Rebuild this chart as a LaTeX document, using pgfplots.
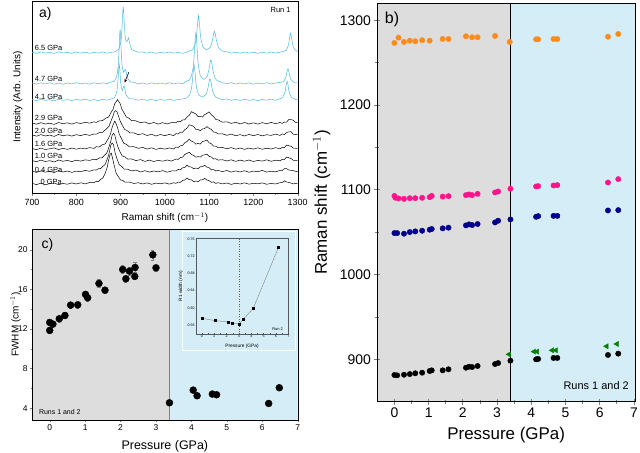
\documentclass[border=0pt]{standalone}
\usepackage{fontspec}
\setmainfont{Liberation Sans}
\usepackage{pgfplots}
\pgfplotsset{compat=1.18}
\usetikzlibrary{arrows.meta}
\definecolor{specblue}{RGB}{75,185,228}
\definecolor{bggray}{RGB}{221,221,221}
\definecolor{bgblue}{RGB}{213,237,247}
\definecolor{dorange}{RGB}{255,140,26}
\definecolor{dpink}{RGB}{255,20,140}
\definecolor{dnavy}{RGB}{0,0,140}
\definecolor{dgreen}{RGB}{0,130,0}
\newcommand{\fs}[1]{\fontsize{#1}{#1}\selectfont}
\begin{document}
\begin{tikzpicture}
\useasboundingbox (0bp,0bp) rectangle (640bp,453bp);
% ---------------- panel a ----------------
\begin{axis}[at={(32bp,260bp)}, anchor=south west, scale only axis,
  width=265.7bp, height=192bp,
  xmin=700, xmax=1300, ymin=0, ymax=192,
  xtick={700,800,...,1300}, minor x tick num=1, ytick=\empty,
  tick pos=left, tick align=outside,
  major tick length=3pt, minor tick length=1.8pt,
  /pgf/number format/assume math mode=true, /pgf/number format/1000 sep={},
  xticklabel style={font=\fs{9}},
  xlabel={Raman shift (cm$^{-1}$)}, ylabel={Intensity (Arb. Units)},
  label style={font=\fs{10}},
  xlabel style={at={(axis description cs:0.5,-0.13)}, anchor=center},
  ylabel style={at={(axis description cs:-0.053,0.5)}, anchor=center},
  clip=true]
% 0 GPa
\addplot[black, line width=0.5pt] coordinates {(700,9.7) (710,8.4) (720,9.8) (730,8.2) (740,9.4) (750,10.0) (760,8.3) (770,9.5) (780,8.8) (790,10.1) (800,9.0) (810,10.2) (820,9.1) (830,10.5) (840,10.3) (845,11.6) (850,11.4) (855,13.6) (860,15.0) (865,19.3) (870,26.0) (873,32.9) (876,38.2) (879,39.9) (882,34.6) (885,28.6) (890,19.9) (895,16.3) (900,13.0) (905,12.6) (910,10.8) (920,11.0) (930,9.5) (940,10.3) (950,9.0) (960,10.1) (970,8.7) (980,9.9) (990,9.2) (1000,10.1) (1010,8.9) (1020,10.3) (1025,9.6) (1030,10.9) (1035,10.6) (1040,12.6) (1045,13.0) (1050,14.9) (1055,13.4) (1060,13.1) (1065,11.4) (1070,12.0) (1075,11.3) (1080,13.0) (1085,13.2) (1090,14.6) (1095,13.0) (1100,12.4) (1105,10.7) (1110,11.1) (1115,9.6) (1120,10.3) (1130,9.1) (1140,10.0) (1150,8.6) (1160,9.8) (1170,9.0) (1180,10.2) (1190,8.8) (1200,9.7) (1210,9.2) (1220,10.1) (1230,8.7) (1240,9.6) (1250,9.0) (1260,10.3) (1265,10.4) (1270,12.2) (1275,11.0) (1280,10.6) (1290,9.1) (1300,9.8)};
% 0.4 GPa
\addplot[black, line width=0.5pt] coordinates {(700,21.9) (710,20.6) (720,22.2) (730,20.8) (740,21.8) (750,20.4) (760,22.4) (770,21.0) (780,22.0) (790,20.6) (800,21.9) (810,21.2) (820,22.6) (830,21.7) (840,23.2) (845,22.9) (850,24.3) (855,24.3) (860,26.6) (865,28.5) (870,33.9) (874,39.6) (878,47.9) (881,50.0) (884,48.2) (888,39.6) (892,34.1) (897,28.3) (902,26.8) (908,24.0) (915,23.9) (925,22.1) (935,22.9) (945,21.0) (955,22.3) (965,20.9) (975,22.0) (985,21.1) (995,22.4) (1005,20.8) (1015,22.0) (1025,22.0) (1030,23.6) (1035,23.1) (1040,25.2) (1045,25.6) (1050,27.7) (1055,26.3) (1060,25.9) (1065,24.2) (1070,25.0) (1075,24.3) (1080,26.2) (1085,26.5) (1090,27.6) (1095,25.9) (1100,25.2) (1105,23.2) (1110,23.4) (1115,22.0) (1120,22.6) (1130,21.4) (1140,22.5) (1150,20.9) (1160,22.1) (1170,21.0) (1180,22.3) (1190,20.7) (1200,21.9) (1210,21.3) (1220,22.6) (1230,20.9) (1240,21.8) (1250,21.1) (1260,22.6) (1265,22.5) (1270,24.4) (1275,24.3) (1280,23.0) (1290,22.3) (1300,21.2)};
% 1.0 GPa
\addplot[black, line width=0.5pt] coordinates {(700,32.5) (710,31.2) (720,32.9) (730,31.5) (740,32.3) (750,31.0) (760,33.0) (770,31.7) (780,32.6) (790,31.4) (800,32.8) (810,31.9) (820,33.1) (830,32.6) (840,33.8) (845,33.2) (852,35.0) (858,35.1) (864,38.0) (869,40.0) (874,46.3) (878,52.0) (881,57.8) (884,59.7) (887,57.9) (890,52.0) (894,46.2) (899,40.9) (904,37.0) (910,36.1) (916,33.9) (924,34.1) (935,32.4) (945,33.4) (955,31.6) (965,32.9) (975,31.5) (985,32.7) (995,31.8) (1005,33.0) (1015,31.9) (1025,33.9) (1030,33.6) (1035,35.4) (1040,35.8) (1045,38.5) (1050,39.6) (1055,40.8) (1060,38.5) (1065,37.6) (1070,35.8) (1075,36.4) (1080,35.9) (1085,37.8) (1090,38.1) (1095,38.9) (1100,36.7) (1105,36.0) (1110,34.0) (1115,34.3) (1120,32.9) (1130,33.3) (1140,32.0) (1150,33.2) (1160,31.6) (1170,32.9) (1180,31.8) (1190,33.0) (1200,31.5) (1210,32.6) (1220,31.9) (1230,33.2) (1240,31.7) (1250,32.8) (1260,32.2) (1265,33.6) (1270,33.5) (1275,36.0) (1280,35.2) (1285,34.5) (1290,32.7) (1300,32.6)};
% 1.6 GPa
\addplot[black, line width=0.5pt] coordinates {(700,44.6) (710,43.3) (720,44.9) (730,43.5) (740,44.2) (750,45.1) (760,43.4) (770,44.7) (780,43.6) (790,45.0) (800,43.8) (810,44.9) (820,44.1) (830,45.4) (840,44.6) (845,46.3) (852,46.0) (858,48.1) (865,49.0) (872,54.3) (877,58.6) (881,65.8) (884,69.1) (887,72.0) (890,69.2) (893,65.7) (897,58.9) (902,54.3) (907,49.9) (913,48.7) (920,46.2) (930,46.3) (940,44.7) (950,45.6) (960,43.9) (970,45.2) (980,43.6) (990,44.8) (1000,43.9) (1010,45.1) (1020,44.0) (1025,46.0) (1030,45.5) (1035,47.2) (1040,47.6) (1045,50.2) (1050,51.4) (1055,53.9) (1060,51.8) (1065,51.0) (1070,48.8) (1075,49.6) (1080,48.9) (1085,51.5) (1090,52.0) (1095,53.0) (1100,50.2) (1105,49.3) (1110,46.8) (1115,46.9) (1120,45.2) (1130,45.6) (1140,44.2) (1150,45.4) (1160,43.8) (1170,45.0) (1180,43.6) (1190,44.9) (1200,43.9) (1210,45.2) (1220,43.7) (1230,44.8) (1240,44.0) (1250,45.3) (1260,44.2) (1265,45.6) (1270,45.4) (1275,48.0) (1280,47.2) (1285,46.7) (1290,44.8) (1300,44.7)};
% 2.0 GPa
\addplot[black, line width=0.5pt] coordinates {(700,58.2) (710,56.8) (720,58.4) (730,57.0) (740,57.9) (750,56.6) (760,58.6) (770,57.2) (780,58.1) (790,56.9) (800,58.3) (810,57.4) (820,58.7) (830,57.6) (840,59.0) (845,58.8) (852,60.4) (859,60.6) (866,63.3) (874,66.8) (879,72.6) (883,77.1) (886,81.3) (889,82.4) (892,81.2) (895,77.3) (899,72.0) (904,67.6) (909,63.7) (915,62.3) (921,60.2) (930,60.1) (940,58.4) (950,59.3) (960,57.5) (970,58.7) (980,57.0) (990,58.5) (1000,57.3) (1010,58.6) (1020,57.4) (1025,59.4) (1030,59.0) (1035,60.8) (1040,60.7) (1045,63.4) (1050,64.8) (1055,68.2) (1060,67.6) (1065,66.6) (1070,63.6) (1075,63.5) (1080,62.3) (1085,64.0) (1090,64.4) (1095,66.4) (1100,64.6) (1105,63.6) (1110,60.9) (1115,60.7) (1120,59.0) (1130,59.2) (1140,57.7) (1150,58.9) (1160,57.2) (1170,58.4) (1180,57.0) (1190,58.6) (1200,57.3) (1210,58.5) (1220,57.1) (1230,58.3) (1240,57.6) (1250,58.9) (1260,57.6) (1265,59.0) (1270,58.5) (1275,60.5) (1280,61.1) (1285,61.3) (1290,58.8) (1300,58.3)};
% 2.9 GPa
\addplot[black, line width=0.5pt] coordinates {(700,70.1) (710,68.8) (720,70.3) (730,69.0) (740,69.8) (750,68.6) (760,70.5) (770,69.2) (780,70.2) (790,68.9) (800,70.4) (810,69.5) (820,70.7) (830,69.8) (840,71.2) (845,70.6) (852,72.2) (859,72.3) (866,74.6) (873,76.0) (878,80.2) (883,83.7) (887,89.5) (890,91.2) (893,93.4) (896,91.3) (899,89.4) (903,83.8) (908,80.0) (913,76.0) (919,74.8) (925,72.3) (933,72.3) (945,70.4) (955,71.0) (965,69.2) (975,70.5) (985,68.9) (995,70.3) (1005,69.0) (1015,70.4) (1025,70.3) (1030,71.7) (1035,71.2) (1040,73.0) (1045,73.2) (1050,76.0) (1055,77.7) (1060,81.3) (1065,80.2) (1070,79.1) (1075,76.3) (1080,76.6) (1085,76.0) (1090,78.5) (1095,79.6) (1100,81.2) (1105,78.2) (1110,76.5) (1115,73.5) (1120,73.2) (1130,70.8) (1140,71.2) (1150,69.6) (1160,70.7) (1170,69.1) (1180,70.5) (1190,69.0) (1200,70.2) (1210,68.9) (1220,70.4) (1230,69.2) (1240,70.6) (1250,69.3) (1260,70.5) (1265,69.6) (1270,71.0) (1275,70.9) (1280,73.5) (1285,73.4) (1290,72.7) (1295,70.4) (1300,70.8)};
% 4.1 GPa
\addplot[specblue, line width=0.5pt] coordinates {(700,93.5) (710,92.4) (720,93.7) (730,92.6) (740,93.3) (750,92.2) (760,93.8) (770,92.7) (780,93.4) (790,92.5) (800,93.6) (810,92.8) (820,93.9) (830,92.6) (840,93.4) (850,92.5) (860,93.7) (870,92.9) (880,94.3) (886,95.0) (890,98.9) (892,102.3) (894,111.1) (896,125.0) (897,128.8) (898,125.7) (900,111.6) (902,105.0) (904,102.4) (906,105.1) (908,107.2) (910,103.5) (912,98.4) (915,96.4) (920,94.1) (930,94.0) (940,92.8) (950,93.9) (960,92.6) (970,93.6) (980,92.3) (990,93.5) (1000,92.7) (1010,93.8) (1020,92.6) (1030,93.5) (1040,94.0) (1050,95.1) (1056,98.3) (1060,104.0) (1062,111.0) (1064,121.1) (1066,128.2) (1068,121.6) (1070,110.8) (1072,104.5) (1076,98.3) (1080,97.0) (1086,95.8) (1090,97.4) (1094,99.4) (1097,104.5) (1099,108.8) (1101,114.1) (1103,113.4) (1105,109.2) (1107,103.6) (1110,99.5) (1115,95.7) (1120,95.0) (1130,93.4) (1140,94.1) (1150,92.6) (1160,93.7) (1170,92.5) (1180,93.8) (1190,92.7) (1200,93.4) (1210,92.3) (1220,93.6) (1230,92.8) (1240,93.9) (1250,92.6) (1260,94.4) (1266,95.3) (1270,99.2) (1272,102.2) (1274,108.4) (1276,111.8) (1278,108.5) (1280,102.3) (1282,99.1) (1286,95.3) (1290,94.7) (1296,93.4) (1300,94.0)};
% 4.7 GPa
\addplot[specblue, line width=0.5pt] coordinates {(700,110.0) (710,108.9) (720,110.2) (730,109.1) (740,110.3) (750,108.8) (760,109.9) (770,108.7) (780,110.1) (790,109.0) (800,110.4) (810,109.2) (820,110.0) (830,108.9) (840,110.3) (850,109.1) (860,110.2) (870,109.4) (880,111.2) (886,111.8) (890,115.3) (893,119.9) (895,129.3) (897,146.4) (898,158.5) (899,163.6) (900,158.0) (901,147.2) (903,128.6) (905,123.4) (907,120.5) (909,122.6) (911,123.4) (913,120.6) (915,115.8) (918,113.4) (922,110.9) (930,110.8) (940,109.0) (950,110.1) (960,108.8) (970,110.2) (980,109.1) (990,110.0) (1000,108.9) (1010,110.3) (1020,109.0) (1030,110.1) (1040,109.3) (1050,111.9) (1056,113.2) (1060,117.1) (1064,125.4) (1066,135.7) (1068,150.6) (1070,161.0) (1072,151.1) (1074,135.5) (1076,126.2) (1080,117.3) (1084,115.0) (1088,113.6) (1092,114.8) (1096,116.9) (1099,122.4) (1101,127.1) (1103,132.7) (1105,132.2) (1107,127.3) (1109,121.5) (1112,116.7) (1116,113.2) (1120,112.1) (1130,110.3) (1140,109.4) (1150,110.3) (1160,108.9) (1170,110.1) (1180,109.0) (1190,110.2) (1200,108.8) (1210,109.9) (1220,109.1) (1230,110.4) (1240,108.9) (1250,110.0) (1262,110.6) (1268,111.3) (1272,114.3) (1274,116.8) (1276,121.7) (1278,124.3) (1280,121.4) (1282,117.2) (1284,113.9) (1288,111.8) (1294,110.2) (1300,110.1)};
% 6.5 GPa
\addplot[specblue, line width=0.5pt] coordinates {(700,140.8) (710,139.7) (720,141.0) (730,139.9) (740,140.6) (750,139.5) (760,141.1) (770,140.0) (780,140.7) (790,139.6) (800,141.0) (810,139.8) (820,140.9) (830,139.7) (840,140.6) (850,139.9) (860,141.1) (870,139.8) (880,140.9) (886,141.0) (892,142.6) (896,143.7) (900,149.5) (902,156.2) (904,171.6) (905,180.6) (906,186.0) (907,182.1) (908,172.5) (910,158.6) (912,152.1) (914,151.3) (916,153.0) (918,155.2) (920,151.1) (922,147.4) (925,143.6) (930,142.3) (940,140.8) (950,141.0) (960,139.8) (970,140.9) (980,139.6) (990,140.8) (1000,139.9) (1010,141.1) (1020,139.8) (1030,140.7) (1040,139.6) (1050,140.9) (1056,142.2) (1062,143.1) (1066,146.0) (1070,151.6) (1072,159.3) (1074,170.1) (1076,177.3) (1078,170.4) (1080,159.0) (1082,152.5) (1086,145.9) (1090,144.3) (1094,143.2) (1098,144.3) (1102,145.3) (1105,148.5) (1108,153.7) (1110,159.3) (1112,161.8) (1114,159.2) (1116,153.4) (1119,148.1) (1122,144.7) (1126,143.3) (1130,141.9) (1140,141.2) (1150,139.8) (1160,140.9) (1170,139.7) (1180,141.0) (1190,139.9) (1200,140.7) (1210,139.6) (1220,140.9) (1230,139.8) (1240,141.0) (1250,139.9) (1260,140.8) (1268,141.6) (1274,142.8) (1278,146.5) (1280,149.9) (1282,156.1) (1284,159.9) (1286,155.7) (1288,150.2) (1290,146.1) (1294,143.2) (1300,141.3)};
\draw[-{Stealth[length=3.5pt,width=3pt]}, black, line width=0.6pt] (axis cs:919,121) -- (axis cs:909,110.5);
\node[font=\fs{14}, anchor=west] at (axis cs:708,179) {a)};
\node[font=\fs{7.5}, anchor=east] at (axis cs:1292,183) {Run 1};
\begin{scope}[every node/.style={font=\fs{7.5}, anchor=west, inner sep=0.5pt}]
\node at (axis cs:705,144.8) {6.5 GPa};
\node at (axis cs:705,114.2) {4.7 GPa};
\node at (axis cs:705,96.2) {4.1 GPa};
\node at (axis cs:705,75.2) {2.9 GPa};
\node at (axis cs:705,62.5) {2.0 GPa};
\node at (axis cs:705,49.5) {1.6 GPa};
\node at (axis cs:705,36.8) {1.0 GPa};
\node at (axis cs:705,23.5) {0.4 GPa};
\node at (axis cs:718,11.2) {0 GPa};
\end{scope}
\end{axis}
% ---------------- panel c ----------------
\begin{axis}[at={(32bp,33bp)}, anchor=south west, scale only axis,
  width=265.7bp, height=191bp,
  xmin=-0.5, xmax=7, ymin=2.8, ymax=22.1,
  xtick={0,...,7}, ytick={4,8,12,16,20}, minor x tick num=1, minor y tick num=1,
  tick pos=left, tick align=outside, axis on top,
  major tick length=2.5pt, minor tick length=1.5pt,
  /pgf/number format/assume math mode=true,
  ticklabel style={font=\fs{8.5}, inner sep=1.8pt},
  xlabel={Pressure (GPa)}, ylabel={FWHM (cm$^{-1}$)},
  xlabel style={font=\fs{12.5}, at={(axis description cs:0.5,-0.14)}, anchor=center},
  ylabel style={font=\fs{10}, at={(axis description cs:-0.062,0.5)}, anchor=center}]
\fill[bggray] (axis cs:-0.5,2.8) rectangle (axis cs:3.38,22.1);
\fill[bgblue] (axis cs:3.38,2.8) rectangle (axis cs:7,22.1);
\draw[gray, line width=0.4pt] (axis cs:3.38,2.8) -- (axis cs:3.38,22.1);
\addplot[only marks, mark=*, mark size=3.5pt, black,
  error bars/.cd, y dir=both, y explicit,
  error bar style={gray, line width=0.5pt},
  error mark options={gray, rotate=90, mark size=1.6pt}] coordinates {
  (0,12.66) +- (0,0.3) (0,11.85) +- (0,0.3) (0.09,12.49) +- (0,0.3)
  (0.27,13.03) +- (0,0.3) (0.43,13.36) +- (0,0.3) (0.59,14.41) +- (0,0.3)
  (0.79,14.44) +- (0,0.3) (1.01,15.49) +- (0,0.35) (1.07,15.15) +- (0,0.3)
  (1.39,16.6) +- (0,0.4) (1.56,15.92) +- (0,0.3) (2.06,18.01) +- (0,0.4)
  (2.15,17.07) +- (0,0.3) (2.25,17.84) +- (0,0.4) (2.41,18.21) +- (0,0.5)
  (2.40,17.31) +- (0,0.3) (2.91,19.49) +- (0,0.5) (3.00,18.18) +- (0,0.3)
  (3.38,4.54) +- (0,0.2) (4.05,5.82) +- (0,0.2) (4.16,5.25) +- (0,0.2)
  (4.59,5.42) +- (0,0.2) (4.71,5.35) +- (0,0.2) (6.18,4.47) +- (0,0.2)
  (6.48,6.06) +- (0,0.2)};
\node[font=\fs{14}, anchor=west] at (axis cs:-0.33,20.5) {c)};
\node[font=\fs{7}, anchor=west] at (axis cs:-0.4,3.6) {Runs 1 and 2};
\end{axis}
\draw[white, line width=0.6pt] (182.7bp,103bp) rectangle (295.7bp,221.3bp);
% ---------------- inset ----------------
\begin{axis}[at={(195.7bp,119bp)}, anchor=south west, scale only axis,
  width=92.6bp, height=95.7bp,
  xmin=-0.5, xmax=7, ymin=0.539, ymax=0.762,
  xtick={0,...,7}, ytick={0.56,0.60,0.64,0.68,0.72,0.76},
  minor x tick num=1, minor y tick num=1,
  tick pos=left, tick align=inside,
  major tick length=1.5pt, minor tick length=0.8pt,
  axis line style={gray!70!black, line width=0.4pt},
  tick style={gray!70!black, line width=0.3pt},
  /pgf/number format/assume math mode=true,
  yticklabel style={/pgf/number format/.cd, fixed, fixed zerofill, precision=2},
  ticklabel style={font=\fs{3.6}, inner sep=1pt},
  xlabel={Pressure (GPa)}, ylabel={R1 width (nm)},
  xlabel style={font=\fs{4.8}, at={(axis description cs:0.5,-0.13)}, anchor=center},
  ylabel style={font=\fs{4.8}, at={(axis description cs:-0.16,0.5)}, anchor=center}]
\draw[gray!70!black, dotted, line width=0.5pt] (axis cs:3,0.539) -- (axis cs:3,0.762);
\addplot[gray, line width=0.4pt, mark=square*, mark size=1pt, mark options={black}] coordinates {
  (0,0.5756) (1.08,0.5701) (2.15,0.5670) (2.42,0.5647) (3.02,0.5623) (3.37,0.5740) (4.15,0.5980) (6.22,0.7420)};
\node[font=\fs{4}, anchor=east] at (axis cs:6.85,0.550) {Run 2};
\end{axis}
% ---------------- panel b ----------------
\begin{axis}[at={(377.3bp,51.3bp)}, anchor=south west, scale only axis,
  width=257.7bp, height=398.4bp,
  xmin=-0.5, xmax=7.03, ymin=850, ymax=1320,
  xtick={0,...,7}, ytick={900,1000,...,1300}, minor x tick num=1, minor y tick num=1,
  tick pos=left, tick align=center, axis on top,
  axis line style={line width=0.9pt}, tick style={line width=0.8pt},
  major tick length=6pt, minor tick length=4pt,
  /pgf/number format/assume math mode=true, /pgf/number format/1000 sep={},
  ticklabel style={font=\fs{14}},
  xlabel={Pressure (GPa)}, ylabel={Raman shift (cm$^{-1}$)},
  label style={font=\fs{17}},
  xlabel style={at={(axis description cs:0.5,-0.0836)}, anchor=center},
  ylabel style={at={(axis description cs:-0.216,0.5)}, anchor=center}]
\fill[bggray] (axis cs:-0.5,850) rectangle (axis cs:3.39,1320);
\fill[bgblue] (axis cs:3.39,850) rectangle (axis cs:7.03,1320);
\draw[black, line width=0.7pt] (axis cs:3.39,850) -- (axis cs:3.39,1320);
\addplot[only marks, mark=*, mark size=2.7pt, dorange] coordinates {
  (0,1273.2) (0.12,1279.5) (0.28,1274.4) (0.45,1275.9) (0.61,1275.2) (0.81,1276.4) (1.03,1275.9)
  (1.41,1277.9) (1.58,1277.9) (2.09,1281.1) (2.27,1279.9) (2.43,1279.9) (2.94,1281.5) (3.37,1274.4)
  (4.14,1277.5) (4.20,1277.5) (4.65,1277.9) (4.76,1277.9) (6.24,1280.6) (6.54,1283.8)};
\addplot[only marks, mark=*, mark size=2.7pt, dpink] coordinates {
  (0,1092.8) (0.03,1090.6) (0.12,1089.8) (0.28,1089.3) (0.45,1090.1) (0.61,1090.1) (0.81,1090.5)
  (1.03,1091.3) (1.09,1092.8) (1.41,1092.0) (1.58,1092.5) (2.09,1093.7) (2.18,1094.5) (2.27,1093.7)
  (2.43,1095.2) (2.94,1096.9) (3.03,1098.0) (3.39,1101.3) (4.14,1103.9) (4.20,1104.3) (4.65,1105.1)
  (4.76,1105.5) (6.24,1108.6) (6.54,1112.6)};
\addplot[only marks, mark=*, mark size=2.7pt, dnavy] coordinates {
  (0,1048.9) (0.08,1048.9) (0.28,1048.2) (0.45,1050.1) (0.61,1050.9) (0.81,1051.7) (1.03,1052.9)
  (1.09,1053.7) (1.41,1054.5) (1.58,1055.3) (2.09,1058.0) (2.18,1059.2) (2.27,1058.4) (2.43,1059.6)
  (2.94,1061.5) (3.03,1063.5) (3.39,1065.0) (4.14,1068.1) (4.20,1068.9) (4.65,1069.2) (4.76,1069.2)
  (6.24,1075.6) (6.54,1076.0)};
\addplot[only marks, mark=*, mark size=2.7pt, black] coordinates {
  (0,881.5) (0.08,881.1) (0.28,881.8) (0.45,882.6) (0.61,883.5) (0.81,884.2) (1.03,886.2)
  (1.09,887.0) (1.41,887.0) (1.58,888.2) (2.09,890.1) (2.18,891.3) (2.27,890.9) (2.43,892.1)
  (2.94,894.4) (3.03,895.6) (3.39,898.4) (4.14,900.0) (4.20,900.4) (4.65,901.6) (4.76,901.6)
  (6.24,905.1) (6.54,906.7)};
\addplot[only marks, mark=triangle*, mark size=3pt, mark options={rotate=90}, dgreen] coordinates {
  (3.35,905.9) (4.08,909.1) (4.17,909.1) (4.61,910.6) (4.72,910.6) (6.20,915.4) (6.50,918.1)};
\node[font=\fs{16}, anchor=west] at (axis cs:-0.38,1301) {b)};
\node[font=\fs{11}, anchor=east] at (axis cs:6.95,869) {Runs 1 and 2};
\end{axis}
\end{tikzpicture}
\end{document}
